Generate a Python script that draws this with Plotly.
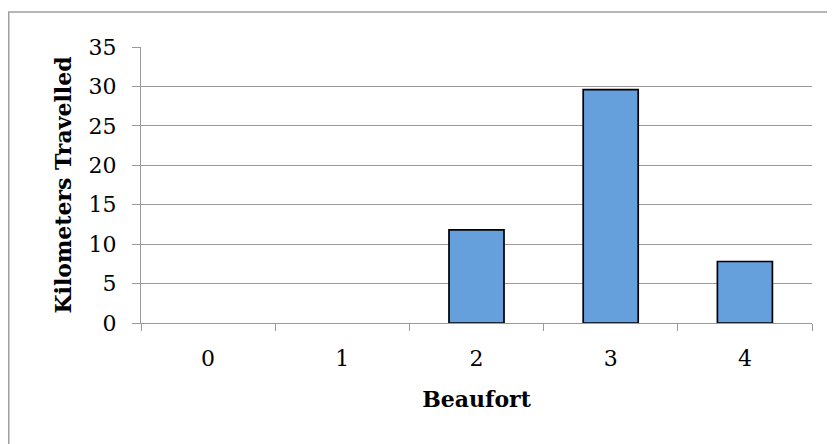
import plotly.graph_objects as go

beaufort = ["0", "1", "2", "3", "4"]
km_travelled = [0, 0, 11.8, 29.6, 7.8]
y_ticks = [0, 5, 10, 15, 20, 25, 30, 35]

FONT = "DejaVu Serif"

# page is rendered with an 8px body margin; margins account for it
L, T, R, B = 133, 39, 31, 129
W, H = 835, 444
pw, ph = W - L - R, H - T - B

fig = go.Figure()
fig.add_trace(go.Bar(
    x=beaufort, y=km_travelled,
    marker=dict(color="#659fdc",
                line=dict(color="black", width=[0 if v == 0 else 1.7 for v in km_travelled])),
    width=0.41,
))

fig.update_layout(
    width=W, height=H,
    margin=dict(l=L, r=R, t=T, b=B),
    paper_bgcolor="white", plot_bgcolor="white",
    showlegend=False,
    font=dict(family=FONT, size=22, color="black"),
    xaxis=dict(
        type="category",
        showline=True, linecolor="#9a9a9a", linewidth=1.3,
        ticks="outside", tickson="boundaries", ticklen=7, tickcolor="#9a9a9a", tickwidth=1.3,
        showgrid=False,
        ticklabelstandoff=15,
        automargin=False,
        title=dict(text="<b>Beaufort</b>", font=dict(family=FONT, size=22), standoff=22),
    ),
    yaxis=dict(
        range=[0, 35],
        tickvals=y_ticks,
        showline=True, linecolor="#9a9a9a", linewidth=1.3,
        ticks="outside", ticklen=8, tickcolor="#9a9a9a", tickwidth=1.3,
        showgrid=True, gridcolor="#9a9a9a", gridwidth=1.3,
        zeroline=False,
        ticklabelstandoff=11,
        automargin=False,
        title=dict(text="<b>Kilometers Travelled</b>", font=dict(family=FONT, size=22), standoff=10),
    ),
    shapes=[dict(type="rect", xref="paper", yref="paper",
                 x0=(0.75 - L) / pw, x1=1.1, y0=-0.6, y1=(T + ph - 4) / ph,
                 line=dict(color="#a0a0a0", width=1.5), fillcolor="rgba(0,0,0,0)", layer="below")],
)

fig.write_html("out.html")
